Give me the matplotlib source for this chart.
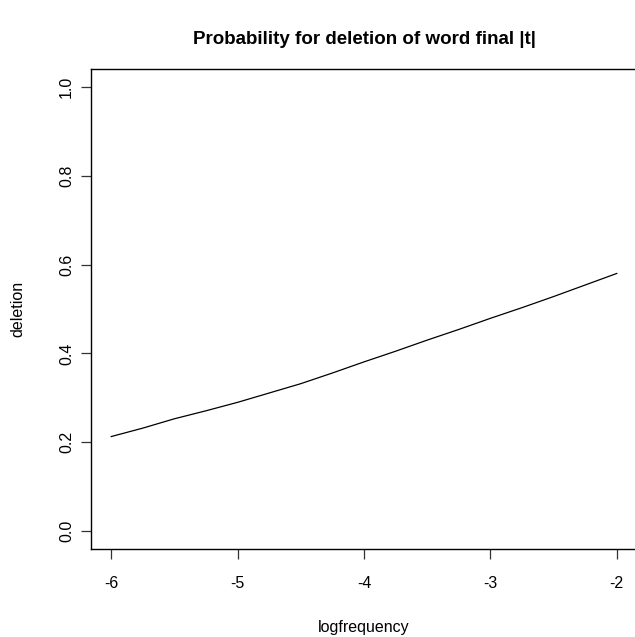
import matplotlib
matplotlib.use("Agg")
import matplotlib.pyplot as plt

plt.rcParams['font.family'] = ['Liberation Sans', 'DejaVu Sans']

# predicted deletion probability across log word frequency
logfrequency = [-6.0, -5.75, -5.5, -5.25, -5.0, -4.75, -4.5, -4.25, -4.0,
                -3.75, -3.5, -3.25, -3.0, -2.75, -2.5, -2.25, -2.0]
deletion = [0.213, 0.232, 0.253, 0.271, 0.290, 0.311, 0.332, 0.356, 0.381,
            0.405, 0.430, 0.454, 0.479, 0.503, 0.528, 0.554, 0.580]

xticks = [-6, -5, -4, -3, -2]
yticks = [0.0, 0.2, 0.4, 0.6, 0.8, 1.0]
yticklabels = ["0.0", "0.2", "0.4", "0.6", "0.8", "1.0"]

fig = plt.figure(figsize=(6.35, 6.37), dpi=100)
ax = fig.add_axes([91 / 635, 88 / 637, (637 - 91) / 635, (549 - 69) / 637])

ax.plot(logfrequency, deletion, color='black', linewidth=0.9)

ax.set_xlim(-6.16, -1.84)
ax.set_ylim(-0.04, 1.04)
ax.set_xticks(xticks)
ax.set_xticklabels([str(t) for t in xticks])
ax.set_yticks(yticks)
ax.set_yticklabels(yticklabels, rotation=90, va='center')

for s in ax.spines.values():
    s.set_linewidth(1.0)
    s.set_color('black')

ax.tick_params(axis='both', direction='out', length=7.2, width=0.9,
               color='#333333', labelsize=11.5)
ax.tick_params(axis='x', pad=12)
ax.tick_params(axis='y', pad=5)

ax.set_xlabel('logfrequency', fontsize=11.5, labelpad=21)
ax.set_ylabel('deletion', fontsize=11.5, labelpad=24)
fig.text((91 + 637) / 2 / 635, 1 - 40 / 637,
         'Probability for deletion of word final |t|',
         ha='center', va='center', fontsize=13.5, fontweight='bold')

fig.savefig('out.png', dpi=100)
